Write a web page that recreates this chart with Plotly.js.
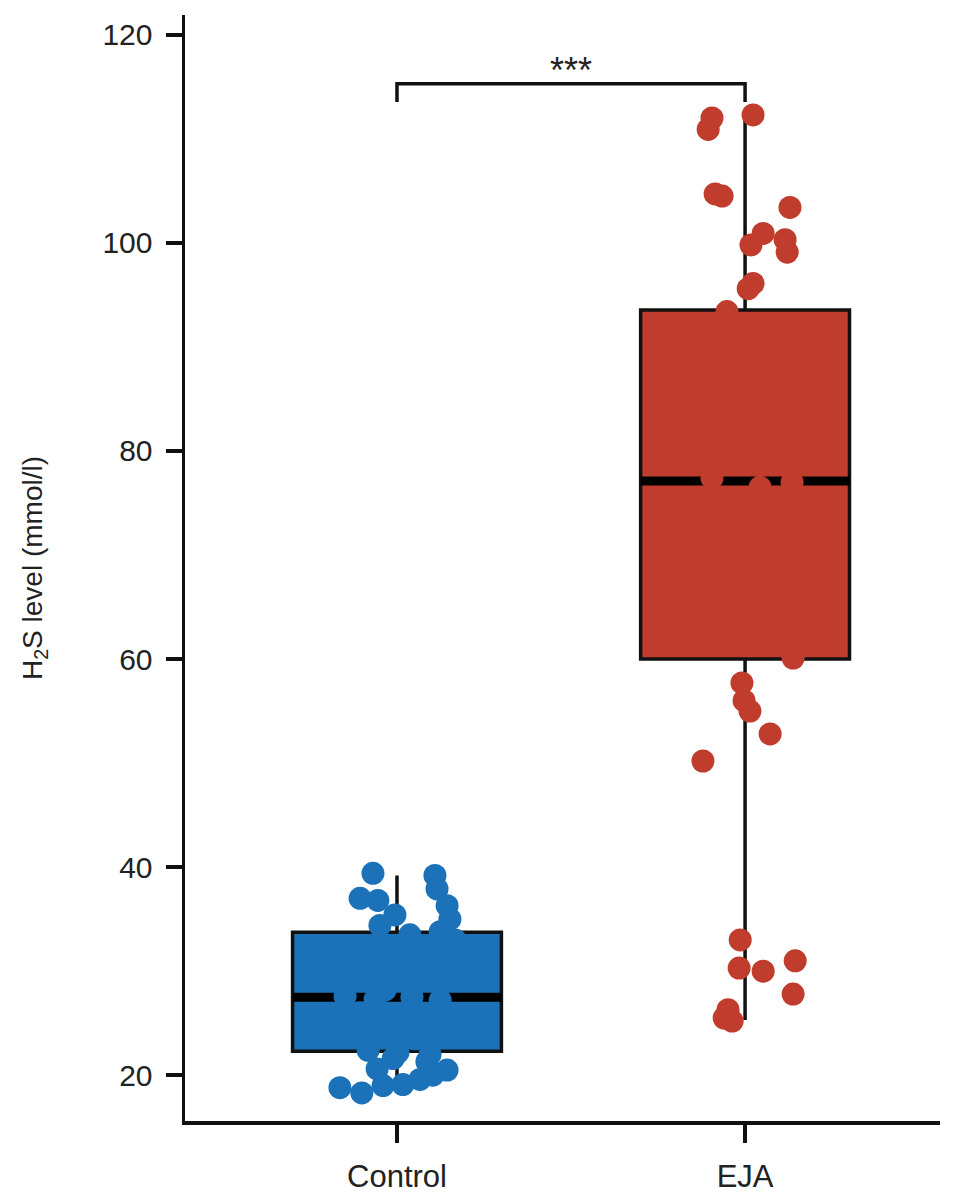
<!DOCTYPE html>
<html>
<head>
<meta charset="utf-8">
<script src="https://cdn.plot.ly/plotly-3.0.1.min.js"></script>
<style>html,body{margin:0;padding:0;background:#fff;}#chart{width:969px;height:1200px;}</style>
</head>
<body>
<div id="chart"></div>
<script>
// ---- data ----
var groups = ["Control", "EJA"];
var groupColors = ["#1b72b8", "#c03c2c"];

// box summary statistics
var q1 = [22.3, 60.0];
var medians = [27.5, 77.1];
var q3 = [33.75, 93.55];
var lowerFence = [18.3, 25.3];
var upperFence = [39.2, 112.3];

// individual observations (value) and horizontal jitter (in category units)
var controlValues = [39.4, 39.2, 37.0, 36.8, 37.9, 36.3, 35.0, 35.4, 34.4, 33.5, 33.8, 33.0, 32.0, 31.0, 30.0, 29.0, 28.2, 27.6, 27.3, 27.5, 27.2, 26.0, 25.5, 24.8, 24.0, 23.5, 22.4, 22.2, 22.0, 21.6, 21.3, 20.6, 20.5, 20.0, 19.6, 19.1, 19.0, 18.8, 18.3];
var controlJitter = [-0.069, 0.109, -0.106, -0.055, 0.115, 0.144, 0.152, -0.006, -0.049, 0.037, 0.124, 0.167, -0.083, 0.009, 0.080, -0.135, -0.034, -0.149, -0.063, 0.043, 0.124, -0.106, -0.006, 0.095, -0.049, 0.052, -0.083, 0.003, 0.095, -0.011, 0.086, -0.057, 0.144, 0.103, 0.066, 0.017, -0.040, -0.164, -0.101];

var ejaValues = [112.3, 112.0, 110.9, 104.7, 104.5, 103.4, 100.9, 100.3, 99.8, 99.1, 96.1, 95.6, 93.4, 77.4, 76.5, 77.0, 85.0, 70.0, 65.0, 60.1, 57.7, 56.0, 55.0, 52.8, 50.2, 33.0, 31.0, 30.3, 30.0, 27.8, 26.3, 25.2, 25.5];
var ejaJitter = [0.023, -0.095, -0.106, -0.086, -0.066, 0.129, 0.052, 0.115, 0.017, 0.121, 0.023, 0.009, -0.052, -0.095, 0.043, 0.135, -0.129, 0.101, -0.043, 0.138, -0.009, -0.003, 0.014, 0.072, -0.121, -0.014, 0.144, -0.017, 0.052, 0.138, -0.049, -0.037, -0.060];

// significance annotation
var sigLabel = "***";
var sigLevel = 115.3;
var sigTickDrop = 1.75;

// ---- style ----
var boxWidth = 0.6;
var font = "Liberation Sans, Arial, Helvetica, sans-serif";

var traces = [];
groups.forEach(function (g, i) {
  traces.push({
    type: "box",
    x: [i],
    q1: [q1[i]], median: [medians[i]], q3: [q3[i]],
    lowerfence: [lowerFence[i]], upperfence: [upperFence[i]],
    width: boxWidth,
    whiskerwidth: 0,
    fillcolor: groupColors[i],
    line: {color: "#111", width: 3.5},
    boxpoints: false,
    hoverinfo: "skip",
    showlegend: false
  });
});
// thick median lines
groups.forEach(function (g, i) {
  traces.push({
    type: "scatter", mode: "lines",
    x: [i - boxWidth / 2, i + boxWidth / 2],
    y: [medians[i], medians[i]],
    line: {color: "#000", width: 9},
    hoverinfo: "skip", showlegend: false
  });
});
// jittered points
var allValues = [controlValues, ejaValues];
var allJitter = [controlJitter, ejaJitter];
groups.forEach(function (g, i) {
  traces.push({
    type: "scatter", mode: "markers",
    x: allJitter[i].map(function (d) { return i + d; }),
    y: allValues[i],
    marker: {color: groupColors[i], size: 23, line: {width: 0}},
    name: g, showlegend: false
  });
});
// significance bracket
traces.push({
  type: "scatter", mode: "lines",
  x: [0, 0, 1, 1],
  y: [sigLevel - sigTickDrop, sigLevel, sigLevel, sigLevel - sigTickDrop],
  line: {color: "#111", width: 3.5},
  hoverinfo: "skip", showlegend: false
});

var layout = {
  width: 969, height: 1200,
  paper_bgcolor: "#fff", plot_bgcolor: "#fff",
  margin: {l: 185, r: 29, t: 15, b: 79},
  font: {family: font, color: "#222"},
  showlegend: false,
  xaxis: {
    range: [-0.609, 1.56],
    tickvals: [0, 1], ticktext: groups,
    showgrid: false, zeroline: false,
    showline: true, linecolor: "#111", linewidth: 3.5,
    ticks: "outside", ticklen: 18, tickwidth: 3.5, tickcolor: "#111",
    ticklabelstandoff: 7,
    tickfont: {size: 31, family: font, color: "#222"}
  },
  yaxis: {
    range: [15.6, 121.9],
    tickvals: [20, 40, 60, 80, 100, 120],
    showgrid: false, zeroline: false,
    showline: true, linecolor: "#111", linewidth: 3.5,
    ticks: "outside", ticklen: 16, tickwidth: 3.5, tickcolor: "#111",
    ticklabelstandoff: 7,
    tickfont: {size: 30, family: font, color: "#222"},
    title: {text: "H<sub>2</sub>S level (mmol/l)", font: {size: 28, family: font, color: "#222"}, standoff: 52}
  },
  annotations: [{
    x: 0.5, y: sigLevel, xref: "x", yref: "y",
    text: sigLabel, showarrow: false,
    yanchor: "bottom", yshift: -9,
    font: {size: 36, family: font, color: "#222"}
  }]
};

Plotly.newPlot("chart", traces, layout, {displayModeBar: false, staticPlot: true});
</script>
</body>
</html>
